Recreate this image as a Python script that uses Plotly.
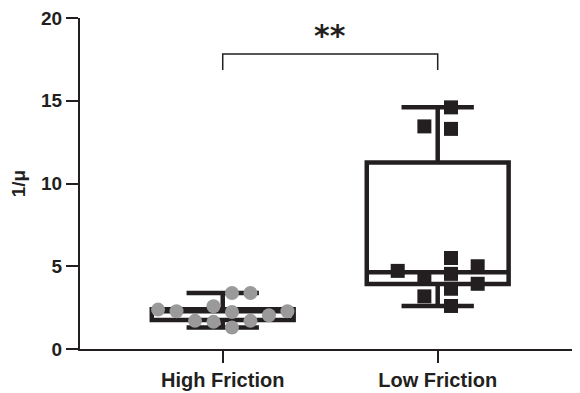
import plotly.graph_objects as go

# ---- data ----
groups = ["High Friction", "Low Friction"]
high_values = [2.28, 2.58, 1.64, 2.24, 3.38, 1.70, 3.38, 2.04, 2.28, 1.30, 1.70, 2.38]
low_values = [14.6, 13.3, 13.45, 5.5, 4.72, 5.0, 4.54, 4.24, 3.94, 3.64, 3.18, 2.6]
q1s = [1.75, 3.92]
medians = [2.28, 4.63]
q3s = [2.40, 11.27]
mins = [1.30, 2.6]
maxs = [3.38, 14.6]
y_ticks = [0, 5, 10, 15, 20]
significance = "**"

INK = "#231f20"
GREY = "#9a9a9a"


def swarm(values, step, min_dy):
    """Deterministic beeswarm: place points in half-integer columns
    nearest the centre without overlapping in the same column."""
    cands = []
    for k in range(12):
        cands += [k + 0.5, -(k + 0.5)]
    order = sorted(range(len(values)), key=lambda i: values[i])
    placed = []
    offs = [0.0] * len(values)
    for i in order:
        v = values[i]
        for c in cands:
            if all(not (pc == c and abs(pv - v) < min_dy) for pc, pv in placed):
                placed.append((c, v))
                offs[i] = c * step
                break
    return offs


fig = go.Figure()

box_w = 0.66
for gi in range(2):
    fig.add_trace(go.Box(
        x=[gi], q1=[q1s[gi]], median=[medians[gi]], q3=[q3s[gi]],
        lowerfence=[mins[gi]], upperfence=[maxs[gi]],
        width=box_w, whiskerwidth=0.51,
        line=dict(color=INK, width=4.5),
        fillcolor="rgba(0,0,0,0)", boxpoints=False,
        showlegend=False, hoverinfo="skip",
    ))

hx = swarm(high_values, 0.086, 0.84)
fig.add_trace(go.Scatter(
    x=[0 + o for o in hx], y=high_values, mode="markers",
    marker=dict(symbol="circle", size=14, color=GREY, line=dict(width=0)),
    showlegend=False, cliponaxis=False,
))
lx = swarm(low_values, 0.124, 0.84)
fig.add_trace(go.Scatter(
    x=[1 + o for o in lx], y=low_values, mode="markers",
    marker=dict(symbol="square", size=14, color=INK, line=dict(width=0)),
    showlegend=False, cliponaxis=False,
))

# significance bracket
br_top, br_drop = 17.82, 16.86
fig.add_shape(type="path",
              path=f"M 0 {br_drop} L 0 {br_top} L 1 {br_top} L 1 {br_drop}",
              line=dict(color=INK, width=1.5), xref="x", yref="y")
fig.add_annotation(x=0.5, y=18.95, text=significance, showarrow=False,
                   xanchor="center", yanchor="middle",
                   font=dict(family="DejaVu Sans", size=30,
                             color=INK, weight="bold"))

fig.update_layout(
    width=572, height=385,
    margin=dict(l=72, r=0, t=8, b=44),
    paper_bgcolor="white", plot_bgcolor="white",
    font=dict(family="Liberation Sans, Arial", color=INK),
)
fig.update_xaxes(
    range=[-0.664, 1.662], tickmode="array", tickvals=[0, 1], ticktext=groups,
    showline=True, linecolor=INK, linewidth=2, ticks="outside", ticklen=12,
    tickwidth=2, tickcolor=INK, showgrid=False, zeroline=False,
    tickfont=dict(size=20, weight="bold", color=INK),
    ticklabeloverflow="allow",
)
fig.update_yaxes(
    range=[0, 20], tickvals=y_ticks,
    showline=True, linecolor=INK, linewidth=2, ticks="outside", ticklen=12,
    tickwidth=2, tickcolor=INK, showgrid=False, zeroline=False,
    tickfont=dict(size=19, weight="bold", color=INK),
    ticklabeloverflow="allow",
    title=dict(text="1/μ", font=dict(size=19, weight="bold", color=INK), standoff=10),
)

fig.write_html("out.html")
